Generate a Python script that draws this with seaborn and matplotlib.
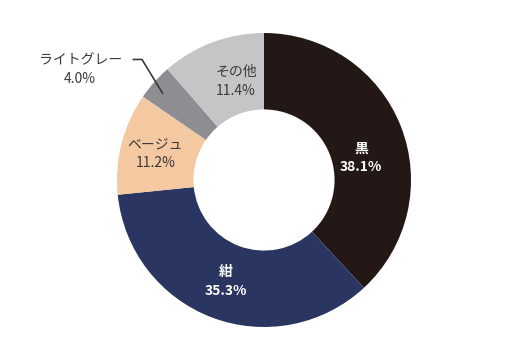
import matplotlib
matplotlib.use("Agg")
import matplotlib.pyplot as plt
import seaborn as sns

# data
labels = ["黒", "紺", "ベージュ", "ライトグレー", "その他"]
shares = [38.1, 35.3, 11.2, 4.0, 11.4]
colors = ["#231815", "#2b3561", "#f4c8a0", "#8e8d91", "#c5c5c7"]
text_colors = ["white", "white", "#3a3a3a", "#3a3a3a", "#3a3a3a"]

sns.set_style("white")
plt.rcParams['font.family'] = ['Noto Sans CJK JP', 'DejaVu Sans']

fig = plt.figure(figsize=(5.12, 3.62), dpi=100)
ax = fig.add_axes([117/512, 35/362, 294/512, 294/362])

wedges, _ = ax.pie(shares, colors=colors, startangle=90, counterclock=False,
                   radius=1.0, wedgeprops=dict(width=0.52, linewidth=0))
ax.set_xlim(-1, 1)
ax.set_ylim(-1, 1)
ax.set_aspect('equal')
ax.axis('off')

# label placement (axes data coords)
label_pos = [(0.66, 0.15), (-0.26, -0.69), (-0.74, 0.18), (-1.25, 0.75), (-0.19, 0.67)]
for lab, val, (x, y), c in zip(labels, shares, label_pos, text_colors):
    bold = c == "white"
    ax.text(x, y, f"{lab}\n{val:.1f}%", ha='center', va='center', color=c,
            fontsize=10, fontweight='bold' if bold else 'normal',
            linespacing=1.45, clip_on=False)

# leader line for the small slice
ax.plot([-0.89, -0.83, -0.69], [0.82, 0.82, 0.59], color="#3a3a3a",
        linewidth=1.2, clip_on=False)

fig.savefig("out.png", dpi=100)
